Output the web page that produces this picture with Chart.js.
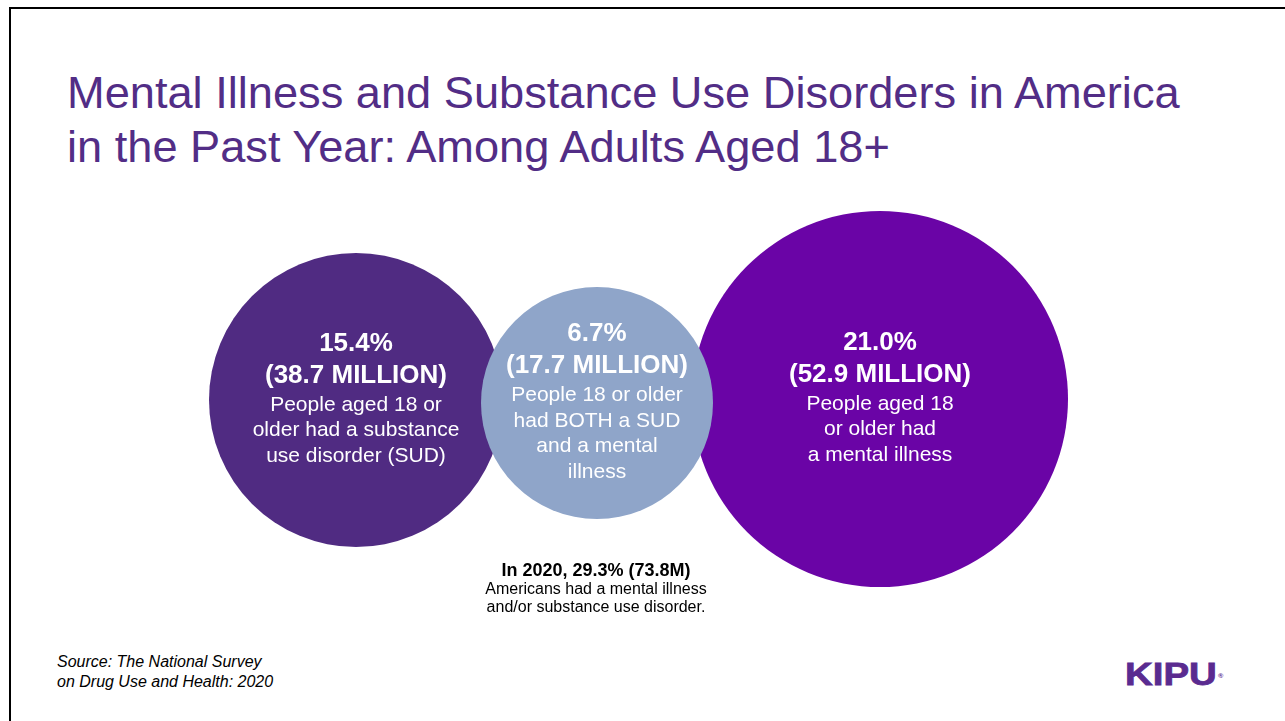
<!DOCTYPE html>
<html>
<head>
<meta charset="utf-8">
<title>Mental Illness and Substance Use Disorders in America</title>
<script src="https://cdn.jsdelivr.net/npm/chart.js"></script>
<style>
body { margin: 0; width: 1285px; height: 721px; overflow: hidden; background: #fff; position: relative; font-family: "Liberation Sans", Arial, sans-serif; }
#frame { position: absolute; left: 9px; top: 7px; right: -10px; bottom: -10px; border-top: 2px solid #000; border-left: 2px solid #000; }
#title { position: absolute; left: 67px; top: 66px; margin: 0; font-size: 45.2px; line-height: 54px; font-weight: normal; color: #522D86; white-space: nowrap; }
#chartBox { position: absolute; left: 190px; top: 200px; width: 900px; height: 400px; }
#note { position: absolute; left: 446px; top: 561px; width: 300px; text-align: center; color: #000; }
#note b { display: block; font-size: 18px; line-height: 19px; }
#note span { display: block; font-size: 16px; line-height: 18px; }
#source { position: absolute; left: 57px; top: 652px; font-size: 16px; line-height: 20px; font-style: italic; color: #000; }
#logo { position: absolute; left: 1125px; top: 658px; font-size: 32px; line-height: 32px; font-weight: bold; color: #5A2B90; transform: scaleX(1.2); transform-origin: left top; -webkit-text-stroke: 0.8px #5A2B90; }
#logo sup { font-size: 6px; vertical-align: top; position: relative; top: 2px; left: 1px; -webkit-text-stroke: 0; }
</style>
</head>
<body>
<div id="frame"></div>
<h1 id="title">Mental Illness and Substance Use Disorders in America<br>in the Past Year: Among Adults Aged 18+</h1>
<div id="chartBox"><canvas id="myChart" width="900" height="400"></canvas></div>
<div id="note"><b>In 2020, 29.3% (73.8M)</b><span>Americans had a mental illness</span><span>and/or substance use disorder.</span></div>
<div id="source">Source: The National Survey<br>on Drug Use and Health: 2020</div>
<div id="logo">KIPU<sup>®</sup></div>

<script>
// circles: left = SUD, middle = both, right = mental illness
const circleNames = ["Substance use disorder", "Both", "Mental illness"];
const percents = ["15.4%", "6.7%", "21.0%"];
const millions = ["38.7", "17.7", "52.9"];
const descriptions =
[
    ["People aged 18 or", "older had a substance", "use disorder (SUD)"],
    ["People 18 or older", "had BOTH a SUD", "and a mental", "illness"],
    ["People aged 18", "or older had", "a mental illness"]
];
// bubble centres and radii in axis units (x 0..90, y 0..40)
const centerX = [16.6, 40.7, 69.0];
const centerY = [20.0, 19.7, 20.1];
const radii = [14.7, 11.6, 18.8];

const circleColors = ["#502B82", "#8FA5C9", "#6A04A6"];

const circleText =
{
    id: "circleText",
    afterDatasetsDraw(chart)
    {
        const ctx = chart.ctx;
        ctx.save();
        ctx.fillStyle = "#fff";
        ctx.textAlign = "center";
        ctx.textBaseline = "middle";

        for (let i = 0; i < percents.length; i++)
        {
            const el = chart.getDatasetMeta(i).data[0];
            const desc = descriptions[i];
            const h = 61 + 25.5 * (desc.length - 1);
            let y = el.y - h / 2;

            ctx.font = "bold 26px 'Liberation Sans', Arial, sans-serif";
            ctx.fillText(percents[i], el.x, y);
            ctx.fillText("(" + millions[i] + " MILLION)", el.x, y + 32);

            ctx.font = "21px 'Liberation Sans', Arial, sans-serif";
            for (let j = 0; j < desc.length; j++)
            {
                ctx.fillText(desc[j], el.x, y + 61 + 25.5 * j);
            }
        }
        ctx.restore();
    }
};

// bubble r is in pixels, so it is worked out from the x scale (10 px per unit)
const pxPerUnit = 900 / 90;

const datasets = circleNames.map((name, i) => ({
    label: name,
    data: [{ x: centerX[i], y: centerY[i], r: radii[i] * pxPerUnit }],
    backgroundColor: circleColors[i],
    hoverBackgroundColor: circleColors[i],
    borderWidth: 0,
    hoverBorderWidth: 0,
    hoverRadius: 0,
    order: i === 1 ? 0 : 1,
    clip: false
}));

new Chart(document.getElementById("myChart"),
{
    type: "bubble",
    data: { datasets: datasets },
    options:
    {
        responsive: false,
        animation: false,
        events: [],
        layout: { padding: 0, autoPadding: false },
        scales:
        {
            x: { type: "linear", min: 0, max: 90, display: false },
            y: { type: "linear", min: 0, max: 40, display: false }
        },
        plugins:
        {
            legend: { display: false },
            tooltip: { enabled: false }
        }
    },
    plugins: [circleText]
});
</script>
</body>
</html>
